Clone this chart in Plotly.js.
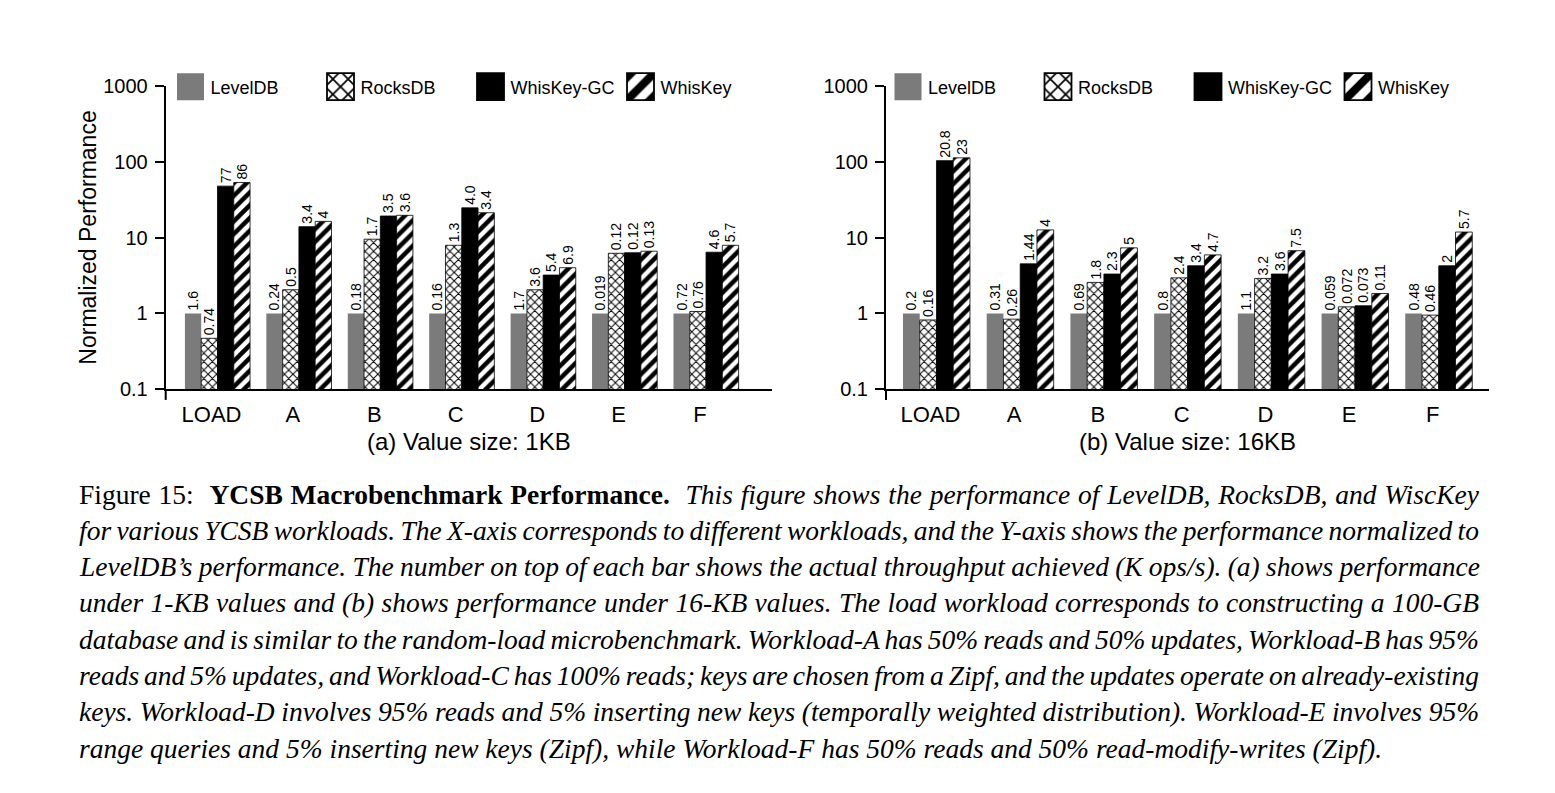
<!DOCTYPE html>
<html><head><meta charset="utf-8">
<script src="https://cdn.plot.ly/plotly-3.0.1.min.js"></script>
<style>html,body{margin:0;padding:0;background:#fff}#chart{width:1555px;height:793px}</style>
</head><body><div id="chart"></div>
<script>
// ---------- DATA ----------
const categories = ['LOAD', 'A', 'B', 'C', 'D', 'E', 'F'];
const seriesNames = ['LevelDB', 'RocksDB', 'WhisKey-GC', 'WhisKey'];

// (a) Value size 1KB : normalized performance (bar heights)
const kb1_LevelDB   = [1, 1, 1, 1, 1, 1, 1];
const kb1_RocksDB   = [0.47, 2.05, 9.5, 7.9, 2.05, 6.2, 1.06];
const kb1_WhisKeyGC = [47.5, 13.9, 19.2, 24.6, 3.2, 6.3, 6.4];
const kb1_WhisKey   = [53, 16.3, 19.6, 21.2, 4.0, 6.6, 7.9];
// (a) throughput labels (K ops/s)
const kb1_LevelDB_lbl   = ['1.6', '0.24', '0.18', '0.16', '1.7', '0.019', '0.72'];
const kb1_RocksDB_lbl   = ['0.74', '0.5', '1.7', '1.3', '3.6', '0.12', '0.76'];
const kb1_WhisKeyGC_lbl = ['77', '3.4', '3.5', '4.0', '5.4', '0.12', '4.6'];
const kb1_WhisKey_lbl   = ['86', '4', '3.6', '3.4', '6.9', '0.13', '5.7'];

// (b) Value size 16KB : normalized performance
const kb16_LevelDB   = [1, 1, 1, 1, 1, 1, 1];
const kb16_RocksDB   = [0.82, 0.84, 2.56, 2.94, 2.89, 1.22, 0.95];
const kb16_WhisKeyGC = [103, 4.5, 3.3, 4.24, 3.3, 1.26, 4.24];
const kb16_WhisKey   = [112, 12.6, 7.3, 5.9, 6.7, 1.83, 11.8];
// (b) throughput labels
const kb16_LevelDB_lbl   = ['0.2', '0.31', '0.69', '0.8', '1.1', '0.059', '0.48'];
const kb16_RocksDB_lbl   = ['0.16', '0.26', '1.8', '2.4', '3.2', '0.072', '0.46'];
const kb16_WhisKeyGC_lbl = ['20.8', '1.44', '2.3', '3.4', '3.6', '0.073', '2'];
const kb16_WhisKey_lbl   = ['23', '4', '5', '4.7', '7.5', '0.11', '5.7'];

const yTickVals = [0.1, 1, 10, 100, 1000];
const yTickText = ['0.1', '1', '10', '100', '1000'];
const subTitles = ['(a) Value size: 1KB', '(b) Value size: 16KB'];
const yTitle = 'Normalized Performance';

const captionLines = [
  ['r:Figure 15:\u00a0 ', 'b:YCSB Macrobenchmark Performance.', 'i:\u00a0 This figure shows the performance of LevelDB, RocksDB, and WiscKey'],
  ['i:for various YCSB workloads. The X-axis corresponds to different workloads, and the Y-axis shows the performance normalized to'],
  ['i:LevelDB\u2019s performance. The number on top of each bar shows the actual throughput achieved (K ops/s). (a) shows performance'],
  ['i:under 1-KB values and (b) shows performance under 16-KB values. The load workload corresponds to constructing a 100-GB'],
  ['i:database and is similar to the random-load microbenchmark. Workload-A has 50% reads and 50% updates, Workload-B has 95%'],
  ['i:reads and 5% updates, and Workload-C has 100% reads; keys are chosen from a Zipf, and the updates operate on already-existing'],
  ['i:keys. Workload-D involves 95% reads and 5% inserting new keys (temporally weighted distribution). Workload-E involves 95%'],
  ['i:range queries and 5% inserting new keys (Zipf), while Workload-F has 50% reads and 50% read-modify-writes (Zipf).']
];

// ---------- STYLE ----------
const W = 1555, H = 793;
const SANS = 'Liberation Sans, Arial, sans-serif';
const SERIF = 'Liberation Serif, Times New Roman, serif';
const styles = [
  {color: '#7b7b7b', line: {color: '#7b7b7b', width: 0}},
  {color: 'white', line: {color: 'black', width: 0.8},
   pattern: {shape: 'x', fgcolor: 'black', bgcolor: 'white', size: 6, solidity: 0.3}},
  {color: 'black', line: {color: 'black', width: 0.8}},
  {color: 'white', line: {color: 'black', width: 0.8},
   pattern: {shape: '/', fgcolor: 'black', bgcolor: 'white', size: 9, solidity: 0.5}}
];

function bar(i, y, lbl, xa, ya, leg) {
  return {
    type: 'bar', name: seriesNames[i], x: categories, y: y, text: lbl,
    xaxis: xa, yaxis: ya, legend: leg,
    marker: styles[i],
    textposition: 'outside', textangle: -90, cliponaxis: false, constraintext: 'none',
    textfont: {family: SANS, size: 14, color: 'black'},
    hoverinfo: 'skip'
  };
}

const data = [
  bar(0, kb1_LevelDB, kb1_LevelDB_lbl, 'x', 'y', 'legend'),
  bar(1, kb1_RocksDB, kb1_RocksDB_lbl, 'x', 'y', 'legend'),
  bar(2, kb1_WhisKeyGC, kb1_WhisKeyGC_lbl, 'x', 'y', 'legend'),
  bar(3, kb1_WhisKey, kb1_WhisKey_lbl, 'x', 'y', 'legend'),
  bar(0, kb16_LevelDB, kb16_LevelDB_lbl, 'x2', 'y2', 'legend2'),
  bar(1, kb16_RocksDB, kb16_RocksDB_lbl, 'x2', 'y2', 'legend2'),
  bar(2, kb16_WhisKeyGC, kb16_WhisKeyGC_lbl, 'x2', 'y2', 'legend2'),
  bar(3, kb16_WhisKey, kb16_WhisKey_lbl, 'x2', 'y2', 'legend2')
];

const px = v => v / W, py = v => 1 - v / H;
const yDom = [py(389.3), py(85.7)];

function xAxis(dom, rng, title, anchor) {
  return {
    domain: dom, range: rng, type: 'category', anchor: anchor,
    showline: true, linecolor: 'black', linewidth: 2, ticks: '', showgrid: false, zeroline: false,
    tickfont: {family: SANS, size: 22, color: 'black'}, ticklabelshift: -6, ticklabelstandoff: 4,
    title: {text: title, font: {family: SANS, size: 24, color: 'black'}, standoff: 7},
    automargin: true, fixedrange: true
  };
}
function yAxis(anchor, title) {
  const a = {
    domain: yDom, type: 'log', range: [-1, 3], anchor: anchor,
    tickmode: 'array', tickvals: yTickVals, ticktext: yTickText,
    ticks: 'outside', ticklen: 9, tickwidth: 2, tickcolor: 'black',
    showline: true, linecolor: 'black', linewidth: 2, showgrid: false, zeroline: false,
    tickfont: {family: SANS, size: 20, color: 'black'}, ticklabelstandoff: 3,
    automargin: true, fixedrange: true
  };
  if (title) a.title = {text: title, font: {family: SANS, size: 23, color: 'black'}, standoff: 0};
  return a;
}

// caption: one annotation per line, justified through word-spacing
const CAP_FS = 27.5, CAP_LEFT = 78, CAP_WIDTH = 1400;
const capSpaces = [], capHtml = [];
const annotations = [];
captionLines.forEach((segs, li) => {
  let spaces = 0, html = '';
  segs.forEach(s => {
    const k = s[0], t = s.slice(2);
    spaces += (t.match(/[ \u00a0]/g) || []).length;
    const esc = t.replace(/\u00a0/g, '&nbsp;');
    html += k === 'b' ? '<b>' + esc + '</b>' : k === 'i' ? '<i>' + esc + '</i>' : esc;
  });
  capSpaces.push(spaces); capHtml.push(html);
  const baseline = 503.3 + 36.3 * li;
  annotations.push({
    xref: 'paper', yref: 'paper', x: px(CAP_LEFT), y: py(baseline - 0.3375 * CAP_FS),
    xanchor: 'left', yanchor: 'middle', showarrow: false, borderpad: 0,
    text: html, font: {family: SERIF, size: CAP_FS, color: 'black'}, align: 'left'
  });
});

const legendBase = {
  orientation: 'h', xanchor: 'left', yanchor: 'middle', y: py(87),
  font: {family: SANS, size: 18, color: 'black'}, bgcolor: 'rgba(0,0,0,0)',
  entrywidth: 105, entrywidthmode: 'pixels', traceorder: 'normal', borderwidth: 0
};

const layout = {
  width: W, height: H, margin: {l: 0, r: 0, t: 0, b: 0, autoexpand: false},
  paper_bgcolor: 'white', plot_bgcolor: 'white',
  font: {family: SANS, color: 'black'},
  barmode: 'group', bargap: 0.2, bargroupgap: 0,
  xaxis: xAxis([px(165.7), px(772)], [-0.636, 6.81], subTitles[0], 'y'),
  yaxis: yAxis('x', yTitle),
  xaxis2: xAxis([px(886), px(1489)], [-0.603, 6.60], subTitles[1], 'y2'),
  yaxis2: yAxis('x2', null),
  legend: Object.assign({}, legendBase, {x: px(170.5)}),
  legend2: Object.assign({}, legendBase, {x: px(888)}),
  showlegend: true,
  shapes: [
    {type: 'line', xref: 'x domain', yref: 'y domain', x0: 0, x1: 0, y0: 0, y1: -0.035, line: {color: 'black', width: 2}},
    {type: 'line', xref: 'x2 domain', yref: 'y2 domain', x0: 0, x1: 0, y0: 0, y1: -0.035, line: {color: 'black', width: 2}}
  ],
  annotations: annotations
};

function enlargeLegendSymbols(gd) {
  gd.querySelectorAll('.legendpoints path').forEach(p => {
    const t = p.getAttribute('transform') || '';
    if (t.indexOf('scale(') < 0) p.setAttribute('transform', t + ' scale(2.25)');
  });
}

Plotly.newPlot('chart', data, layout, {staticPlot: true, displayModeBar: false}).then(gd => {
  // measure the natural width of each caption line, then justify all but the last
  const nodes = gd.querySelectorAll('.annotation-text');
  const upd = {};
  captionLines.forEach((segs, li) => {
    if (li === captionLines.length - 1) return;
    const node = nodes[li];
    if (!node) return;
    const w = node.getComputedTextLength ? node.getComputedTextLength() : node.getBBox().width;
    const ws = (CAP_WIDTH - w) / capSpaces[li];
    upd['annotations[' + li + '].text'] =
      '<span style="word-spacing:' + ws.toFixed(2) + 'px">' + capHtml[li] + '</span>';
  });
  return Plotly.relayout(gd, upd);
}).then(() => {
  enlargeLegendSymbols(document.getElementById('chart'));
});
</script>
</body></html>
